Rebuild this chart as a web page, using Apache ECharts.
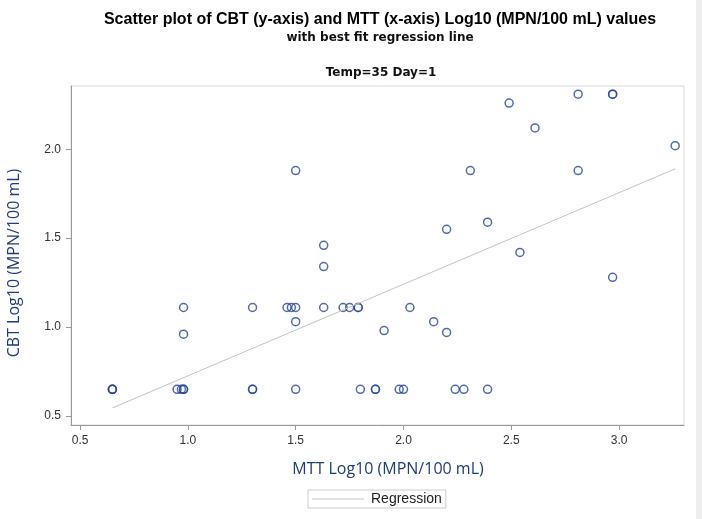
<!DOCTYPE html>
<html>
<head>
<meta charset="utf-8">
<title>CBT vs MTT scatter</title>
<script src="https://cdn.jsdelivr.net/npm/echarts@6/dist/echarts.min.js"></script>
<style>
  html, body { margin: 0; padding: 0; background: #fff; }
  #main { width: 702px; height: 519px; }
</style>
</head>
<body>
<div id="main"></div>
<script>
// MTT (x) and CBT (y), Log10 (MPN/100 mL)
var mttValues = [
  0.65, 0.65, 0.65, 0.95, 0.97, 0.98, 0.98, 1.30, 1.30, 1.50, 1.80, 1.87, 1.87, 1.98, 2.00, 2.24, 2.28, 2.39,
  0.98, 1.30, 1.46, 1.48, 1.50, 1.63, 1.72, 1.75, 1.79, 1.79, 2.03,
  0.98, 1.50, 1.91, 2.14, 2.20,
  1.50, 1.63, 1.63, 2.20, 2.39, 2.54, 2.97,
  2.31, 2.81, 2.49, 2.81, 2.97, 2.97, 2.61, 3.26
]
var cbtValues = [
  0.65, 0.65, 0.65, 0.65, 0.65, 0.65, 0.65, 0.65, 0.65, 0.65, 0.65, 0.65, 0.65, 0.65, 0.65, 0.65, 0.65, 0.65,
  1.11, 1.11, 1.11, 1.11, 1.11, 1.11, 1.11, 1.11, 1.11, 1.11, 1.11,
  0.96, 1.03, 0.98, 1.03, 0.97,
  1.88, 1.46, 1.34, 1.55, 1.59, 1.42, 1.28,
  1.88, 1.88, 2.26, 2.31, 2.31, 2.31, 2.12, 2.02
]
// end points of the fitted line
var fitX = [0.65, 3.26]
var fitY = [0.545, 1.89]
var xTicks = [0.5, 1.0, 1.5, 2.0, 2.5, 3.0]
var yTicks = [0.5, 1.0, 1.5, 2.0]

var points = mttValues.map(function (v, i) { return [v, cbtValues[i]] })
var fitLine = fitX.map(function (v, i) { return [v, fitY[i]] })

var myChart = echarts.init(document.getElementById('main'))
var option = {
  animation: false,
  backgroundColor: '#fff',
  graphic: [
    {
      type: 'text', x: 380, y: 20,
      style: { text: 'Scatter plot of CBT (y-axis) and MTT (x-axis) Log10 (MPN/100 mL) values', textAlign: 'center', textVerticalAlign: 'middle', font: 'bold 16px "Liberation Sans", Arial', fill: '#000' }
    },
    {
      type: 'text', x: 380, y: 38,
      style: { text: 'with best fit regression line', textAlign: 'center', textVerticalAlign: 'middle', font: 'bold 12px "DejaVu Sans"', fill: '#111' }
    },
    {
      type: 'text', x: 381, y: 73,
      style: { text: 'Temp=35 Day=1', textAlign: 'center', textVerticalAlign: 'middle', font: 'bold 12px "DejaVu Sans"', fill: '#111' }
    },
    // axis titles
    {
      type: 'text', x: 388, y: 469,
      style: { text: 'MTT Log10 (MPN/100 mL)', textAlign: 'center', textVerticalAlign: 'middle', font: '16px "Open Sans"', fill: '#1f3d7a' }
    },
    {
      type: 'text', x: 14, y: 263, rotation: Math.PI / 2,
      style: { text: 'CBT Log10 (MPN/100 mL)', textAlign: 'center', textVerticalAlign: 'middle', font: '16px "Open Sans"', fill: '#1f3d7a' }
    },
    {
      type: 'rect', shape: { x: 696, y: 0, width: 6, height: 519 },
      style: { fill: '#eeeeee' }
    }
  ],
  grid: {
    left: 71, right: 18, top: 86, bottom: 94,
    show: true, borderColor: '#d8d8d8', borderWidth: 1
  },
  legend: {
    data: [{ name: 'Regression', icon: 'rect' }],
    left: 308, top: 490,
    padding: [2, 4],
    itemWidth: 52, itemHeight: 1,
    borderColor: '#cccccc', borderWidth: 1, borderRadius: 0,
    textStyle: { fontFamily: '"Liberation Sans", Arial', fontSize: 14, color: '#222', padding: [0, 0, 0, 2] }
  },
  xAxis: {
    type: 'value',
    min: 0.458, max: 3.301,
    axisLine: { show: true, lineStyle: { color: '#999', width: 1 } },
    axisTick: { show: true, length: 5, customValues: xTicks, lineStyle: { color: '#999' } },
    axisLabel: { customValues: xTicks, margin: 10, fontFamily: '"Liberation Sans", Arial', fontSize: 12, color: '#333', formatter: function (v) { return v.toFixed(1) } },
    splitLine: { show: false }
  },
  yAxis: {
    type: 'value',
    min: 0.449, max: 2.356,
    axisLine: { show: true, lineStyle: { color: '#999', width: 1 } },
    axisTick: { show: true, length: 5, customValues: yTicks, lineStyle: { color: '#999' } },
    axisLabel: { customValues: yTicks, margin: 10, fontFamily: '"Liberation Sans", Arial', fontSize: 12, color: '#333', formatter: function (v) { return v.toFixed(1) } },
    splitLine: { show: false }
  },
  series: [
    {
      name: 'Scatter',
      type: 'scatter',
      data: points,
      symbol: 'circle',
      symbolSize: 8,
      itemStyle: { color: 'rgba(0,0,0,0)', borderColor: '#24479a', borderWidth: 1.5 }
    },
    {
      name: 'Regression',
      type: 'line',
      data: fitLine,
      showSymbol: false,
      symbol: 'none',
      lineStyle: { color: '#c4c4c4', width: 1 },
      itemStyle: { color: '#c4c4c4' }
    }
  ]
}
myChart.setOption(option)
</script>
</body>
</html>
